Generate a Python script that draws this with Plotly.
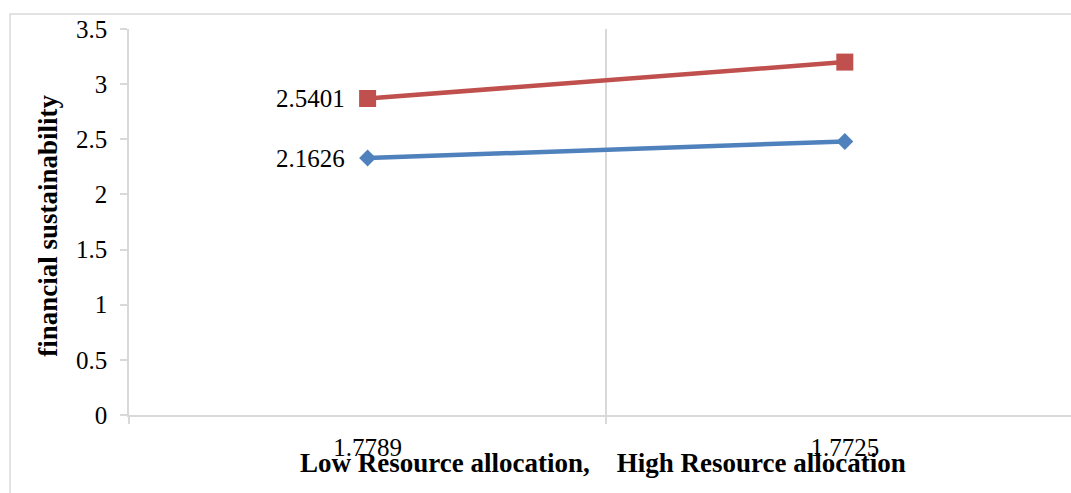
import plotly.graph_objects as go

# Resource allocation levels (category labels on the x axis)
categories = ["1.7789", "1.7725"]

# Moderator series: name shown beside the first point, values per category
series_names = ["2.1626", "2.5401"]
blue_values = [2.33, 2.48]
red_values = [2.87, 3.20]

y_ticks = [0, 0.5, 1, 1.5, 2, 2.5, 3, 3.5]

x_title = "Low Resource allocation,\u00a0\u00a0\u00a0\u00a0High Resource allocation"
y_title = "financial sustainability"

SERIF = "Liberation Serif"
GRID = "#d9d9d9"

fig = go.Figure()

fig.add_trace(go.Scatter(
    x=categories, y=blue_values, name=series_names[0],
    mode="lines+markers",
    line=dict(color="#4F81BD", width=4.5),
    marker=dict(symbol="diamond", size=13, color="#4F81BD"),
    cliponaxis=False,
))
fig.add_trace(go.Scatter(
    x=categories, y=red_values, name=series_names[1],
    mode="lines+markers",
    line=dict(color="#C0504D", width=4.5),
    marker=dict(symbol="square", size=17, color="#C0504D"),
    cliponaxis=False,
))

# series-name labels to the left of each series' first point
# (category axes take the category index for annotation positions)
first_idx = categories.index(categories[0])
series_labels = [
    dict(text=name, x=first_idx, y=vals[first_idx], xref="x", yref="y",
         xanchor="right", yanchor="middle", xshift=-21, showarrow=False,
         font=dict(family=SERIF, size=25, color="black"))
    for name, vals in zip(series_names, [blue_values, red_values])
]

fig.update_layout(
    width=1071, height=493,
    margin=dict(l=129, r=0, t=29, b=78),
    paper_bgcolor="white", plot_bgcolor="white",
    showlegend=False,
    font=dict(family=SERIF, color="black"),
    xaxis=dict(
        type="category", range=[-0.5, 1.474],
        tickson="boundaries", showgrid=True, gridcolor=GRID, gridwidth=1.5,
        showline=True, linecolor=GRID, linewidth=1.5,
        ticks="outside", ticklen=7, tickcolor=GRID, tickwidth=1.5,
        tickfont=dict(family=SERIF, size=25, color="black"),
        ticklabelstandoff=9,
        zeroline=False,
    ),
    yaxis=dict(
        range=[0, 3.5], tickvals=y_ticks,
        ticktext=[f"{v:g}" for v in y_ticks],
        showgrid=False, zeroline=False,
        showline=True, linecolor=GRID, linewidth=1.5,
        ticks="outside", ticklen=7, tickcolor=GRID, tickwidth=1.5,
        tickfont=dict(family=SERIF, size=25, color="black"),
        ticklabelstandoff=8,
    ),
    annotations=series_labels + [
        dict(text=f"<b>{x_title}</b>", xref="paper", yref="paper",
             x=0.5027, y=-0.125, xanchor="center", yanchor="middle",
             showarrow=False, font=dict(family=SERIF, size=27, color="black")),
        dict(text=f"<b>{y_title}</b>", xref="paper", yref="paper",
             x=-0.086, y=0.49, xanchor="center", yanchor="middle",
             textangle=-90, showarrow=False,
             font=dict(family=SERIF, size=27, color="black")),
    ],
    shapes=[
        # outer chart frame (runs off the right and bottom edges)
        dict(type="rect", xref="paper", yref="paper",
             x0=-0.1263, y0=-0.5, x1=1.3, y1=1.0389,
             line=dict(color=GRID, width=1.5), layer="below"),
    ],
)

fig.write_html("out.html")
